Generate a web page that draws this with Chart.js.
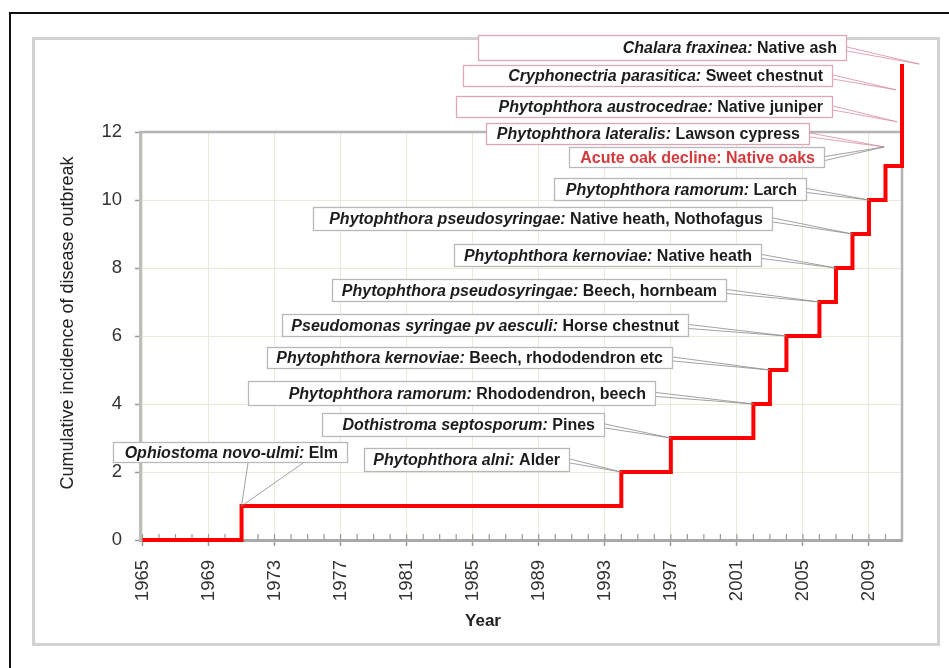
<!DOCTYPE html>
<html>
<head>
<meta charset="utf-8">
<script src="https://cdn.jsdelivr.net/npm/chart.js@4.4.1/dist/chart.umd.min.js"></script>
<style>
  html, body { margin: 0; padding: 0; background: #fff; }
</style>
</head>
<body>
<canvas id="chart" width="949" height="668"></canvas>
<script>
// step data: year of each new outbreak and the running total
const years = [1965, 1971, 1994, 1997, 2002, 2003, 2004, 2006, 2007, 2008, 2009, 2010, 2011];
const outbreaks = [0, 1, 2, 3, 4, 5, 6, 7, 8, 9, 10, 11, 14];
const yearTicks = [1965, 1969, 1973, 1977, 1981, 1985, 1989, 1993, 1997, 2001, 2005, 2009];
const countTicks = [0, 2, 4, 6, 8, 10, 12];

// callout texts, top to bottom
const pathogens = [
  "Chalara fraxinea", "Cryphonectria parasitica", "Phytophthora austrocedrae",
  "Phytophthora lateralis", "Acute oak decline", "Phytophthora ramorum",
  "Phytophthora pseudosyringae", "Phytophthora kernoviae", "Phytophthora pseudosyringae",
  "Pseudomonas syringae pv aesculi", "Phytophthora kernoviae", "Phytophthora ramorum",
  "Dothistroma septosporum", "Phytophthora alni", "Ophiostoma novo-ulmi"
];
const hosts = [
  "Native ash", "Sweet chestnut", "Native juniper", "Lawson cypress", "Native oaks",
  "Larch", "Native heath, Nothofagus", "Native heath", "Beech, hornbeam",
  "Horse chestnut", "Beech, rhododendron etc", "Rhododendron, beech", "Pines",
  "Alder", "Elm"
];

// box placement (pixels) and where each leader points (data units or data index)
const calloutLayout = [
  { box: [478, 35, 847, 61], at: [2012.04, 14], pink: true },
  { box: [463, 65, 833, 87], at: [2010.64, 13.24], pink: true },
  { box: [456, 96, 833, 118], at: [2010.7, 12.3], pink: true },
  { box: [486, 123, 810, 145], at: [2009.92, 11.56], pink: true },
  { box: [569, 147, 825, 168], at: [2009.92, 11.56], red: true },
  { box: [554, 178, 807, 201], point: 10 },
  { box: [313, 207, 773, 231], point: 9 },
  { box: [454, 244, 762, 267], point: 8 },
  { box: [332, 279, 727, 302], point: 7 },
  { box: [282, 314, 689, 337], point: 6 },
  { box: [267, 347, 673, 369], point: 5 },
  { box: [248, 381, 656, 406], point: 4 },
  { box: [322, 413, 605, 437], point: 3 },
  { box: [364, 448, 570, 472], point: 2 },
  { box: [113, 442, 348, 463], point: 1, base: [248, 303] }
];

const FONT = '"Liberation Sans", Arial, sans-serif';

const decor = {
  id: 'decor',
  beforeDraw(chart) {
    const ctx = chart.ctx;
    ctx.save();
    ctx.fillStyle = '#fff';
    ctx.fillRect(0, 0, chart.width, chart.height);
    ctx.strokeStyle = '#111';
    ctx.lineWidth = 2;
    ctx.strokeRect(10, 13, 950, 700);
    ctx.strokeStyle = '#d2d2d2';
    ctx.lineWidth = 3;
    ctx.strokeRect(33.5, 38.5, 905, 606);
    ctx.restore();
  },
  beforeDatasetsDraw(chart) {
    const ctx = chart.ctx, a = chart.chartArea;
    const xs = chart.scales.x;
    ctx.save();
    // plot frame top / right
    ctx.strokeStyle = '#b4b4b4';
    ctx.lineWidth = 2.5;
    ctx.beginPath();
    ctx.moveTo(a.left, a.top);
    ctx.lineTo(a.right, a.top);
    ctx.lineTo(a.right, a.bottom);
    ctx.stroke();
    // minor year ticks
    ctx.strokeStyle = '#9a9a9a';
    ctx.lineWidth = 1.2;
    ctx.beginPath();
    for (let yr = 1965; yr <= 2010; yr++) {
      const x = xs.getPixelForValue(yr);
      ctx.moveTo(x, a.bottom - 6);
      ctx.lineTo(x, a.bottom);
    }
    ctx.stroke();
    ctx.restore();
  },
  afterDraw(chart) {
    const ctx = chart.ctx;
    const xs = chart.scales.x, ys = chart.scales.y;
    ctx.save();
    // axis titles
    ctx.fillStyle = '#222';
    ctx.textAlign = 'center';
    ctx.textBaseline = 'middle';
    ctx.font = 'bold 17px ' + FONT;
    ctx.fillText('Year', 483, 621);
    ctx.translate(68, 323);
    ctx.rotate(-Math.PI / 2);
    ctx.font = '18px ' + FONT;
    ctx.fillText('Cumulative incidence of disease outbreak', 0, 0);
    ctx.restore();

    // callouts
    const italic = 'italic bold 16px ' + FONT;
    const plain = 'bold 16px ' + FONT;
    calloutLayout.forEach((c, i) => {
      const [l, t, r, b] = c.box;
      const tx = c.at ? xs.getPixelForValue(c.at[0]) : xs.getPixelForValue(years[c.point]);
      const ty = c.at ? ys.getPixelForValue(c.at[1]) : ys.getPixelForValue(outbreaks[c.point]);
      ctx.save();
      ctx.strokeStyle = c.pink ? '#d58d9f' : '#8a8a8a';
      ctx.lineWidth = 0.8;
      ctx.beginPath();
      if (c.base) {
        ctx.moveTo(c.base[0], b);
        ctx.lineTo(tx, ty);
        ctx.lineTo(c.base[1], b);
      } else {
        const cy = (t + b) / 2;
        ctx.moveTo(r, cy - 1);
        ctx.lineTo(tx, ty);
        ctx.lineTo(r, cy + 3);
      }
      ctx.stroke();
      ctx.fillStyle = '#fff';
      ctx.fillRect(l, t, r - l, b - t);
      ctx.strokeStyle = c.pink ? '#dfa6b4' : '#b8b8b8';
      ctx.lineWidth = 1.3;
      ctx.strokeRect(l + 0.5, t + 0.5, r - l - 1, b - t - 1);

      const head = pathogens[i] + ':';
      const tail = ' ' + hosts[i];
      ctx.font = plain;
      const w2 = ctx.measureText(tail).width;
      ctx.font = c.red ? plain : italic;
      const w1 = ctx.measureText(head).width;
      const x0 = r - 10 - w1 - w2;
      const ym = (t + b) / 2 + 1;
      ctx.textAlign = 'left';
      ctx.textBaseline = 'middle';
      ctx.fillStyle = c.red ? '#d23a3c' : '#1c1c1c';
      ctx.fillText(head, x0, ym);
      ctx.font = plain;
      ctx.fillText(tail, x0 + w1, ym);
      ctx.restore();
    });
  }
};

new Chart(document.getElementById('chart'), {
  type: 'line',
  data: {
    datasets: [{
      label: 'Cumulative outbreaks',
      data: years.map((y, i) => ({ x: y, y: outbreaks[i] })),
      stepped: true,
      borderColor: '#ff0000',
      borderWidth: 4,
      borderJoinStyle: 'miter',
      pointRadius: 0,
      fill: false,
      clip: false
    }]
  },
  options: {
    responsive: false,
    animation: false,
    devicePixelRatio: 1,
    layout: { padding: { left: 0, top: 132, right: 47, bottom: 0 } },
    plugins: {
      legend: { display: false },
      tooltip: { enabled: false }
    },
    scales: {
      x: {
        type: 'linear',
        min: 1964.85,
        max: 2011,
        afterBuildTicks: s => { s.ticks = yearTicks.map(v => ({ value: v })); },
        afterFit: s => { s.height = 128; },
        ticks: {
          autoSkip: false,
          minRotation: 90,
          maxRotation: 90,
          padding: 14,
          color: '#333',
          font: { family: FONT, size: 18.5 },
          callback: v => String(v)
        },
        grid: { color: '#ebead8', lineWidth: 1, tickLength: 6, tickColor: '#9a9a9a', tickWidth: 1.5 },
        border: { color: '#a9a9a9', width: 3 }
      },
      y: {
        min: 0,
        max: 12,
        afterBuildTicks: s => { s.ticks = countTicks.map(v => ({ value: v })); },
        afterFit: s => { s.width = 140; },
        ticks: {
          padding: 13,
          color: '#333',
          font: { family: FONT, size: 18.5 }
        },
        grid: { color: '#ebead8', lineWidth: 1, tickLength: 5, tickColor: '#9a9a9a', tickWidth: 1.5 },
        border: { color: '#bdbdbd', width: 3 }
      }
    }
  },
  plugins: [decor]
});
</script>
</body>
</html>
